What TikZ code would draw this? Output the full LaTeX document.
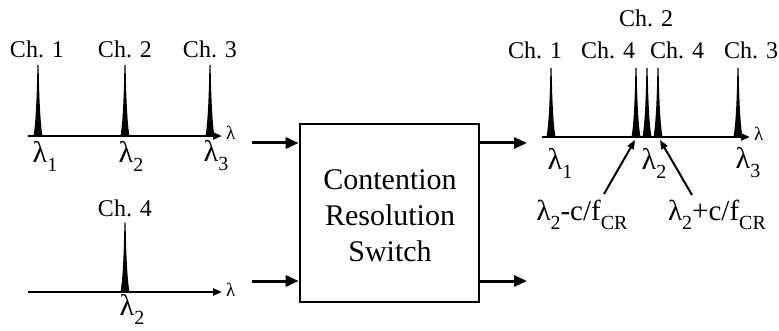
\documentclass[tikz,border=0pt]{standalone}
\usepackage{fontspec}
\setmainfont{Liberation Serif}
\usetikzlibrary{arrows.meta}
\newcommand{\lsub}[1]{\raisebox{-0.3em}{\fontsize{20}{20}\selectfont #1}}
\newcommand{\myspike}[3]{\fill (#1-4.5,#2) .. controls (#1-1.8,#2-15) and (#1-0.9,#3+20) .. (#1-0.6,#3) -- (#1+0.6,#3) .. controls (#1+0.9,#3+20) and (#1+1.8,#2-15) .. (#1+4.5,#2) -- cycle;}
\begin{document}
\begin{tikzpicture}[x=1pt,y=-1pt,
  axis/.style={line width=2.6pt,-{Triangle[length=9pt,width=7pt]}},
  flow/.style={line width=3pt,-{Triangle[length=13pt,width=11pt]}},
  pointer/.style={line width=2pt,-{Triangle[length=9pt,width=7pt]}},
  chlab/.style={font=\fontsize{24}{26}\selectfont,inner sep=0pt},
  lamlab/.style={font=\fontsize{30}{32}\selectfont,inner sep=0pt},
  eqlab/.style={font=\fontsize{29}{31}\selectfont,inner sep=0pt},
  axlab/.style={font=\fontsize{19}{20}\selectfont,inner sep=0pt},
  boxst/.style={draw,line width=2.6pt,minimum width=179pt,minimum height=178pt,inner sep=0pt},
  boxtext/.style={font=\fontsize{30}{36}\selectfont,align=center,inner sep=0pt},
]
\useasboundingbox (0,0) rectangle (779,331);

% ---- top-left spectrum
\coordinate (a1s) at (28,136);
\coordinate (a1e) at (222,136);
\draw[axis] (a1s) -- (a1e);
\node[axlab,anchor=west] (l1) at (226,133) {λ};
\myspike{38}{136}{65}
\myspike{125}{136}{65}
\myspike{210}{136}{65}
\node[chlab] (c1) at (37,49) {Ch. 1};
\node[chlab] (c2) at (125,49) {Ch. 2};
\node[chlab] (c3) at (210,49) {Ch. 3};
\node[lamlab] (x1) at (45,156) {λ\lsub{1}};
\node[lamlab] (x2) at (131,156) {λ\lsub{2}};
\node[lamlab] (x3) at (216,156) {λ\lsub{3}};

% ---- bottom-left spectrum
\coordinate (a2s) at (28,292);
\coordinate (a2e) at (222,292);
\draw[axis] (a2s) -- (a2e);
\node[axlab,anchor=west] (l2) at (226,290) {λ};
\myspike{125}{292}{223}
\node[chlab] (c4) at (125,208) {Ch. 4};
\node[lamlab] (x4) at (132,309) {λ\lsub{2}};

% ---- switch
\node[boxst] (sw) at (389.5,213) {};
\node[boxtext] (swt) at (390,216) {Contention\\Resolution\\Switch};
\coordinate (i1) at (252,143);
\coordinate (i2) at (252,281);
\coordinate (o1) at (527,143);
\coordinate (o2) at (527,281);
\draw[flow] (i1) -- (i1 -| sw.west);
\draw[flow] (i2) -- (i2 -| sw.west);
\draw[flow] (o1 -| sw.east) -- (o1);
\draw[flow] (o2 -| sw.east) -- (o2);

% ---- right spectrum
\coordinate (a3s) at (542,137);
\coordinate (a3e) at (750,137);
\draw[axis] (a3s) -- (a3e);
\node[axlab,anchor=west] (l3) at (754,134) {λ};
\myspike{551}{137}{68}
\myspike{636}{137}{68}
\myspike{647}{137}{68}
\myspike{658}{137}{68}
\myspike{738}{137}{68}
\node[chlab] (r1) at (535,50) {Ch. 1};
\node[chlab] (r4a) at (608,50) {Ch. 4};
\node[chlab] (r2) at (646,18) {Ch. 2};
\node[chlab] (r4b) at (677,50) {Ch. 4};
\node[chlab] (r3) at (751,50) {Ch. 3};
\node[lamlab] (y1) at (560,163) {λ\lsub{1}};
\node[lamlab] (y2) at (654,163) {λ\lsub{2}};
\node[lamlab] (y3) at (748,163) {λ\lsub{3}};
\node[eqlab] (m1) at (582,215) {λ\lsub{2}-c/f\lsub{CR}};
\node[eqlab] (m2) at (717,215) {λ\lsub{2}+c/f\lsub{CR}};
\coordinate (p1t) at (604,194);
\coordinate (p1h) at (635,140);
\coordinate (p2t) at (692,195);
\coordinate (p2h) at (660,140);
\draw[pointer] (p1t) -- (p1h);
\draw[pointer] (p2t) -- (p2h);
\end{tikzpicture}
\end{document}
